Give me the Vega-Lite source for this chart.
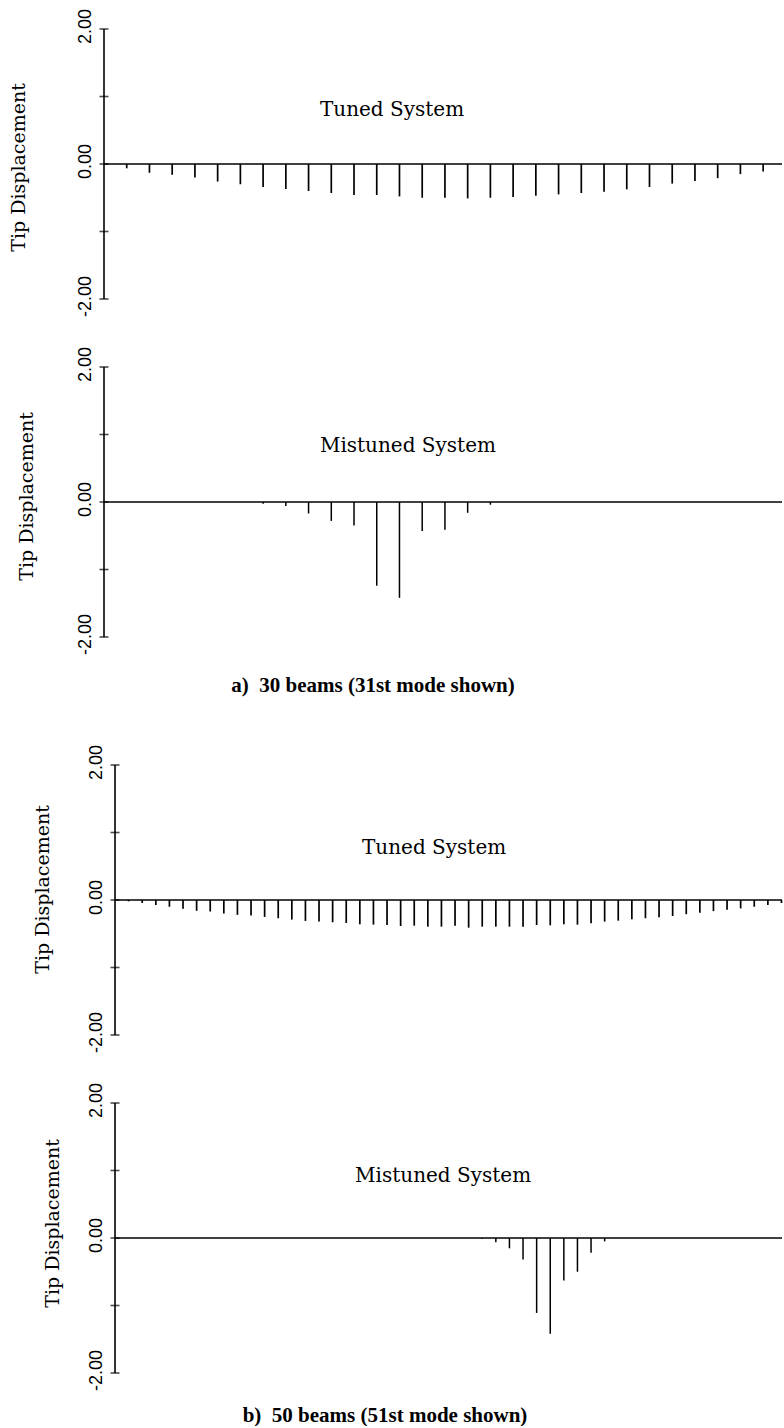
{
  "$schema": "https://vega.github.io/schema/vega-lite/v6.json",
  "autosize": {"type": "pad"},
  "padding": {"left": 9, "top": 8, "right": 0, "bottom": 0},
  "background": "white",
  "datasets": {
    "tip": [
      {"beams":30,"system":"Tuned","beam":1,"disp":-0.064},{"beams":30,"system":"Tuned","beam":2,"disp":-0.13},{"beams":30,"system":"Tuned","beam":3,"disp":-0.16},{"beams":30,"system":"Tuned","beam":4,"disp":-0.2},{"beams":30,"system":"Tuned","beam":5,"disp":-0.26},{"beams":30,"system":"Tuned","beam":6,"disp":-0.3},{"beams":30,"system":"Tuned","beam":7,"disp":-0.34},{"beams":30,"system":"Tuned","beam":8,"disp":-0.37},{"beams":30,"system":"Tuned","beam":9,"disp":-0.4},{"beams":30,"system":"Tuned","beam":10,"disp":-0.43},
      {"beams":30,"system":"Tuned","beam":11,"disp":-0.46},{"beams":30,"system":"Tuned","beam":12,"disp":-0.46},{"beams":30,"system":"Tuned","beam":13,"disp":-0.48},{"beams":30,"system":"Tuned","beam":14,"disp":-0.5},{"beams":30,"system":"Tuned","beam":15,"disp":-0.5},{"beams":30,"system":"Tuned","beam":16,"disp":-0.51},{"beams":30,"system":"Tuned","beam":17,"disp":-0.5},{"beams":30,"system":"Tuned","beam":18,"disp":-0.49},{"beams":30,"system":"Tuned","beam":19,"disp":-0.47},{"beams":30,"system":"Tuned","beam":20,"disp":-0.45},
      {"beams":30,"system":"Tuned","beam":21,"disp":-0.43},{"beams":30,"system":"Tuned","beam":22,"disp":-0.41},{"beams":30,"system":"Tuned","beam":23,"disp":-0.375},{"beams":30,"system":"Tuned","beam":24,"disp":-0.34},{"beams":30,"system":"Tuned","beam":25,"disp":-0.29},{"beams":30,"system":"Tuned","beam":26,"disp":-0.25},{"beams":30,"system":"Tuned","beam":27,"disp":-0.21},{"beams":30,"system":"Tuned","beam":28,"disp":-0.15},{"beams":30,"system":"Tuned","beam":29,"disp":-0.11},

      {"beams":30,"system":"Mistuned","beam":1,"disp":0},{"beams":30,"system":"Mistuned","beam":2,"disp":0},{"beams":30,"system":"Mistuned","beam":3,"disp":0},{"beams":30,"system":"Mistuned","beam":4,"disp":0},{"beams":30,"system":"Mistuned","beam":5,"disp":0},{"beams":30,"system":"Mistuned","beam":6,"disp":0},{"beams":30,"system":"Mistuned","beam":7,"disp":-0.025},{"beams":30,"system":"Mistuned","beam":8,"disp":-0.06},{"beams":30,"system":"Mistuned","beam":9,"disp":-0.17},{"beams":30,"system":"Mistuned","beam":10,"disp":-0.28},
      {"beams":30,"system":"Mistuned","beam":11,"disp":-0.35},{"beams":30,"system":"Mistuned","beam":12,"disp":-1.24},{"beams":30,"system":"Mistuned","beam":13,"disp":-1.42},{"beams":30,"system":"Mistuned","beam":14,"disp":-0.43},{"beams":30,"system":"Mistuned","beam":15,"disp":-0.41},{"beams":30,"system":"Mistuned","beam":16,"disp":-0.16},{"beams":30,"system":"Mistuned","beam":17,"disp":-0.04},{"beams":30,"system":"Mistuned","beam":18,"disp":0},{"beams":30,"system":"Mistuned","beam":19,"disp":0},{"beams":30,"system":"Mistuned","beam":20,"disp":0},
      {"beams":30,"system":"Mistuned","beam":21,"disp":0},{"beams":30,"system":"Mistuned","beam":22,"disp":0},{"beams":30,"system":"Mistuned","beam":23,"disp":0},{"beams":30,"system":"Mistuned","beam":24,"disp":0},{"beams":30,"system":"Mistuned","beam":25,"disp":0},{"beams":30,"system":"Mistuned","beam":26,"disp":0},{"beams":30,"system":"Mistuned","beam":27,"disp":0},{"beams":30,"system":"Mistuned","beam":28,"disp":0},{"beams":30,"system":"Mistuned","beam":29,"disp":0},

      {"beams":50,"system":"Tuned","beam":1,"disp":-0.02},{"beams":50,"system":"Tuned","beam":2,"disp":-0.044},{"beams":50,"system":"Tuned","beam":3,"disp":-0.074},{"beams":50,"system":"Tuned","beam":4,"disp":-0.1},{"beams":50,"system":"Tuned","beam":5,"disp":-0.13},{"beams":50,"system":"Tuned","beam":6,"disp":-0.16},{"beams":50,"system":"Tuned","beam":7,"disp":-0.17},{"beams":50,"system":"Tuned","beam":8,"disp":-0.2},{"beams":50,"system":"Tuned","beam":9,"disp":-0.22},{"beams":50,"system":"Tuned","beam":10,"disp":-0.23},
      {"beams":50,"system":"Tuned","beam":11,"disp":-0.25},{"beams":50,"system":"Tuned","beam":12,"disp":-0.27},{"beams":50,"system":"Tuned","beam":13,"disp":-0.29},{"beams":50,"system":"Tuned","beam":14,"disp":-0.31},{"beams":50,"system":"Tuned","beam":15,"disp":-0.32},{"beams":50,"system":"Tuned","beam":16,"disp":-0.33},{"beams":50,"system":"Tuned","beam":17,"disp":-0.34},{"beams":50,"system":"Tuned","beam":18,"disp":-0.36},{"beams":50,"system":"Tuned","beam":19,"disp":-0.365},{"beams":50,"system":"Tuned","beam":20,"disp":-0.37},
      {"beams":50,"system":"Tuned","beam":21,"disp":-0.385},{"beams":50,"system":"Tuned","beam":22,"disp":-0.38},{"beams":50,"system":"Tuned","beam":23,"disp":-0.395},{"beams":50,"system":"Tuned","beam":24,"disp":-0.395},{"beams":50,"system":"Tuned","beam":25,"disp":-0.38},{"beams":50,"system":"Tuned","beam":26,"disp":-0.41},{"beams":50,"system":"Tuned","beam":27,"disp":-0.395},{"beams":50,"system":"Tuned","beam":28,"disp":-0.395},{"beams":50,"system":"Tuned","beam":29,"disp":-0.395},{"beams":50,"system":"Tuned","beam":30,"disp":-0.395},
      {"beams":50,"system":"Tuned","beam":31,"disp":-0.37},{"beams":50,"system":"Tuned","beam":32,"disp":-0.375},{"beams":50,"system":"Tuned","beam":33,"disp":-0.36},{"beams":50,"system":"Tuned","beam":34,"disp":-0.365},{"beams":50,"system":"Tuned","beam":35,"disp":-0.345},{"beams":50,"system":"Tuned","beam":36,"disp":-0.32},{"beams":50,"system":"Tuned","beam":37,"disp":-0.306},{"beams":50,"system":"Tuned","beam":38,"disp":-0.286},{"beams":50,"system":"Tuned","beam":39,"disp":-0.27},{"beams":50,"system":"Tuned","beam":40,"disp":-0.257},
      {"beams":50,"system":"Tuned","beam":41,"disp":-0.237},{"beams":50,"system":"Tuned","beam":42,"disp":-0.21},{"beams":50,"system":"Tuned","beam":43,"disp":-0.19},{"beams":50,"system":"Tuned","beam":44,"disp":-0.165},{"beams":50,"system":"Tuned","beam":45,"disp":-0.145},{"beams":50,"system":"Tuned","beam":46,"disp":-0.125},{"beams":50,"system":"Tuned","beam":47,"disp":-0.1},{"beams":50,"system":"Tuned","beam":48,"disp":-0.075},{"beams":50,"system":"Tuned","beam":49,"disp":-0.045},

      {"beams":50,"system":"Mistuned","beam":1,"disp":0},{"beams":50,"system":"Mistuned","beam":2,"disp":0},{"beams":50,"system":"Mistuned","beam":3,"disp":0},{"beams":50,"system":"Mistuned","beam":4,"disp":0},{"beams":50,"system":"Mistuned","beam":5,"disp":0},{"beams":50,"system":"Mistuned","beam":6,"disp":0},{"beams":50,"system":"Mistuned","beam":7,"disp":0},{"beams":50,"system":"Mistuned","beam":8,"disp":0},{"beams":50,"system":"Mistuned","beam":9,"disp":0},{"beams":50,"system":"Mistuned","beam":10,"disp":0},
      {"beams":50,"system":"Mistuned","beam":11,"disp":0},{"beams":50,"system":"Mistuned","beam":12,"disp":0},{"beams":50,"system":"Mistuned","beam":13,"disp":0},{"beams":50,"system":"Mistuned","beam":14,"disp":0},{"beams":50,"system":"Mistuned","beam":15,"disp":0},{"beams":50,"system":"Mistuned","beam":16,"disp":0},{"beams":50,"system":"Mistuned","beam":17,"disp":0},{"beams":50,"system":"Mistuned","beam":18,"disp":0},{"beams":50,"system":"Mistuned","beam":19,"disp":0},{"beams":50,"system":"Mistuned","beam":20,"disp":0},
      {"beams":50,"system":"Mistuned","beam":21,"disp":0},{"beams":50,"system":"Mistuned","beam":22,"disp":0},{"beams":50,"system":"Mistuned","beam":23,"disp":0},{"beams":50,"system":"Mistuned","beam":24,"disp":0},{"beams":50,"system":"Mistuned","beam":25,"disp":0},{"beams":50,"system":"Mistuned","beam":26,"disp":0},{"beams":50,"system":"Mistuned","beam":27,"disp":-0.01},{"beams":50,"system":"Mistuned","beam":28,"disp":-0.064},{"beams":50,"system":"Mistuned","beam":29,"disp":-0.153},{"beams":50,"system":"Mistuned","beam":30,"disp":-0.32},
      {"beams":50,"system":"Mistuned","beam":31,"disp":-1.11},{"beams":50,"system":"Mistuned","beam":32,"disp":-1.42},{"beams":50,"system":"Mistuned","beam":33,"disp":-0.63},{"beams":50,"system":"Mistuned","beam":34,"disp":-0.5},{"beams":50,"system":"Mistuned","beam":35,"disp":-0.22},{"beams":50,"system":"Mistuned","beam":36,"disp":-0.05},{"beams":50,"system":"Mistuned","beam":37,"disp":0},{"beams":50,"system":"Mistuned","beam":38,"disp":0},{"beams":50,"system":"Mistuned","beam":39,"disp":0},{"beams":50,"system":"Mistuned","beam":40,"disp":0},
      {"beams":50,"system":"Mistuned","beam":41,"disp":0},{"beams":50,"system":"Mistuned","beam":42,"disp":0},{"beams":50,"system":"Mistuned","beam":43,"disp":0},{"beams":50,"system":"Mistuned","beam":44,"disp":0},{"beams":50,"system":"Mistuned","beam":45,"disp":0},{"beams":50,"system":"Mistuned","beam":46,"disp":0},{"beams":50,"system":"Mistuned","beam":47,"disp":0},{"beams":50,"system":"Mistuned","beam":48,"disp":0},{"beams":50,"system":"Mistuned","beam":49,"disp":0}
    ],
    "yticks": [{"v": -2}, {"v": -1}, {"v": 0}, {"v": 1}, {"v": 2}],
    "one": [{"k": 1}]
  },
  "vconcat": [
    {
      "width": 678, "height": 270,
      "layer": [
        {"data": {"name": "one"}, "mark": {"type": "rule", "color": "black", "strokeWidth": 1.6},
         "encoding": {"x": {"datum": 0}, "x2": {"datum": 29.83}, "y": {"datum": 0, "title": "Tip Displacement"}}},
        {"data": {"name": "one"}, "mark": {"type": "rule", "color": "black", "strokeWidth": 1.6},
         "encoding": {"x": {"datum": 0}, "y": {"datum": -2, "title": "Tip Displacement"}, "y2": {"datum": 2}}},
        {"data": {"name": "tip"}, "transform": [{"filter": "datum.beams == 30 && datum.system == 'Tuned'"}],
         "mark": {"type": "rule", "color": "black", "strokeWidth": 1.7},
         "encoding": {
           "x": {"field": "beam", "type": "quantitative", "scale": {"domain": [0, 29.83], "nice": false, "zero": false}},
           "y": {"field": "disp", "type": "quantitative", "title": "Tip Displacement", "scale": {"domain": [-2, 2], "nice": false},
                 "axis": {"values": [-2, 0, 2], "labelExpr": "datum.value == 2 ? '2.00' : datum.value == 0 ? '0.00' : '-2.00'", "titleX": -76, "titleY": 138}},
           "y2": {"datum": 0}}},
        {"data": {"name": "yticks"}, "mark": {"type": "tick", "orient": "horizontal", "size": 9, "thickness": 1.6, "color": "black"},
         "encoding": {"x": {"datum": 0}, "y": {"field": "v", "type": "quantitative", "title": "Tip Displacement"}}},
        {"data": {"name": "one"}, "mark": {"type": "text", "text": "Tuned System", "font": "DejaVu Serif", "fontSize": 20, "align": "left", "baseline": "middle", "color": "black"},
         "encoding": {"x": {"datum": 9.5}, "y": {"datum": 0.8, "title": "Tip Displacement"}}}
      ]
    },
    {
      "width": 678, "height": 330,
      "title": {"text": "a)\u00a0 30 beams (31st mode shown)", "orient": "bottom", "anchor": "middle", "frame": "group", "dx": -70, "offset": -22},
      "layer": [
        {"data": {"name": "one"}, "mark": {"type": "rule", "color": "black", "strokeWidth": 1.6},
         "encoding": {"x": {"datum": 0}, "x2": {"datum": 29.83}, "y": {"datum": 0, "title": "Tip Displacement"}}},
        {"data": {"name": "one"}, "mark": {"type": "rule", "color": "black", "strokeWidth": 1.6},
         "encoding": {"x": {"datum": 0}, "y": {"datum": -2, "title": "Tip Displacement"}, "y2": {"datum": 2}}},
        {"data": {"name": "tip"}, "transform": [{"filter": "datum.beams == 30 && datum.system == 'Mistuned'"}],
         "mark": {"type": "rule", "color": "black", "strokeWidth": 1.5},
         "encoding": {
           "x": {"field": "beam", "type": "quantitative", "scale": {"domain": [0, 29.83], "nice": false, "zero": false}},
           "y": {"field": "disp", "type": "quantitative", "title": "Tip Displacement", "scale": {"domain": [-2.8889, 2], "nice": false},
                 "axis": {"values": [-2, 0, 2], "labelExpr": "datum.value == 2 ? '2.00' : datum.value == 0 ? '0.00' : '-2.00'", "titleX": -68, "titleY": 129}},
           "y2": {"datum": 0}}},
        {"data": {"name": "yticks"}, "mark": {"type": "tick", "orient": "horizontal", "size": 9, "thickness": 1.6, "color": "black"},
         "encoding": {"x": {"datum": 0}, "y": {"field": "v", "type": "quantitative", "title": "Tip Displacement"}}},
        {"data": {"name": "one"}, "mark": {"type": "text", "text": "Mistuned System", "font": "DejaVu Serif", "fontSize": 20, "align": "left", "baseline": "middle", "color": "black"},
         "encoding": {"x": {"datum": 9.5}, "y": {"datum": 0.83, "title": "Tip Displacement"}}}
      ]
    },
    {
      "width": 678, "height": 270,
      "layer": [
        {"data": {"name": "one"}, "mark": {"type": "rule", "color": "black", "strokeWidth": 1.6},
         "encoding": {"x": {"datum": 0}, "x2": {"datum": 49.04}, "y": {"datum": 0, "title": "Tip Displacement"}}},
        {"data": {"name": "one"}, "mark": {"type": "rule", "color": "black", "strokeWidth": 1.6},
         "encoding": {"x": {"datum": 0}, "y": {"datum": -2, "title": "Tip Displacement"}, "y2": {"datum": 2}}},
        {"data": {"name": "tip"}, "transform": [{"filter": "datum.beams == 50 && datum.system == 'Tuned'"}],
         "mark": {"type": "rule", "color": "black", "strokeWidth": 1.7},
         "encoding": {
           "x": {"field": "beam", "type": "quantitative", "scale": {"domain": [-0.81, 49.04], "nice": false, "zero": false}},
           "y": {"field": "disp", "type": "quantitative", "title": "Tip Displacement", "scale": {"domain": [-2, 2], "nice": false},
                 "axis": {"values": [-2, 0, 2], "labelExpr": "datum.value == 2 ? '2.00' : datum.value == 0 ? '0.00' : '-2.00'", "offset": -11, "titleX": -63, "titleY": 124}},
           "y2": {"datum": 0}}},
        {"data": {"name": "yticks"}, "mark": {"type": "tick", "orient": "horizontal", "size": 9, "thickness": 1.6, "color": "black"},
         "encoding": {"x": {"datum": 0}, "y": {"field": "v", "type": "quantitative", "title": "Tip Displacement"}}},
        {"data": {"name": "one"}, "mark": {"type": "text", "text": "Tuned System", "font": "DejaVu Serif", "fontSize": 20, "align": "left", "baseline": "middle", "color": "black"},
         "encoding": {"x": {"datum": 18.16}, "y": {"datum": 0.77, "title": "Tip Displacement"}}}
      ]
    },
    {
      "width": 678, "height": 270,
      "title": {"text": "b)\u00a0 50 beams (51st mode shown)", "orient": "bottom", "anchor": "middle", "frame": "group", "dx": -58, "offset": 14},
      "layer": [
        {"data": {"name": "one"}, "mark": {"type": "rule", "color": "black", "strokeWidth": 1.6},
         "encoding": {"x": {"datum": 0}, "x2": {"datum": 49.04}, "y": {"datum": 0, "title": "Tip Displacement"}}},
        {"data": {"name": "one"}, "mark": {"type": "rule", "color": "black", "strokeWidth": 1.6},
         "encoding": {"x": {"datum": 0}, "y": {"datum": -2, "title": "Tip Displacement"}, "y2": {"datum": 2}}},
        {"data": {"name": "tip"}, "transform": [{"filter": "datum.beams == 50 && datum.system == 'Mistuned'"}],
         "mark": {"type": "rule", "color": "black", "strokeWidth": 1.5},
         "encoding": {
           "x": {"field": "beam", "type": "quantitative", "scale": {"domain": [-0.81, 49.04], "nice": false, "zero": false}},
           "y": {"field": "disp", "type": "quantitative", "title": "Tip Displacement", "scale": {"domain": [-2, 2], "nice": false},
                 "axis": {"values": [-2, 0, 2], "labelExpr": "datum.value == 2 ? '2.00' : datum.value == 0 ? '0.00' : '-2.00'", "offset": -11, "titleX": -53, "titleY": 120}},
           "y2": {"datum": 0}}},
        {"data": {"name": "yticks"}, "mark": {"type": "tick", "orient": "horizontal", "size": 9, "thickness": 1.6, "color": "black"},
         "encoding": {"x": {"datum": 0}, "y": {"field": "v", "type": "quantitative", "title": "Tip Displacement"}}},
        {"data": {"name": "one"}, "mark": {"type": "text", "text": "Mistuned System", "font": "DejaVu Serif", "fontSize": 20, "align": "left", "baseline": "middle", "color": "black"},
         "encoding": {"x": {"datum": 17.65}, "y": {"datum": 0.92, "title": "Tip Displacement"}}}
      ]
    }
  ],
  "spacing": 68,
  "bounds": "flush",
  "resolve": {"scale": {"x": "independent", "y": "independent"}, "axis": {"y": "independent"}},
  "config": {
    "view": {"stroke": null},
    "axisX": {"disable": true},
    "axisY": {
      "grid": false, "ticks": false, "domain": false,
      "labelFont": "Liberation Sans", "labelFontSize": 18, "labelColor": "black",
      "labelAngle": 270, "labelAlign": "center", "labelBaseline": "bottom", "labelPadding": 10, "labelOffset": -3,
      "labelOverlap": false, "labelBound": false, "labelFlush": false,
      "titleFont": "DejaVu Serif", "titleFontSize": 19, "titleFontWeight": "normal", "titleColor": "black",
      "titleAngle": 270, "titleBaseline": "bottom", "titleAlign": "center", "titlePadding": 0
    },
    "title": {"font": "Liberation Serif", "fontSize": 21, "fontWeight": "bold", "color": "black", "baseline": "top"}
  }
}
